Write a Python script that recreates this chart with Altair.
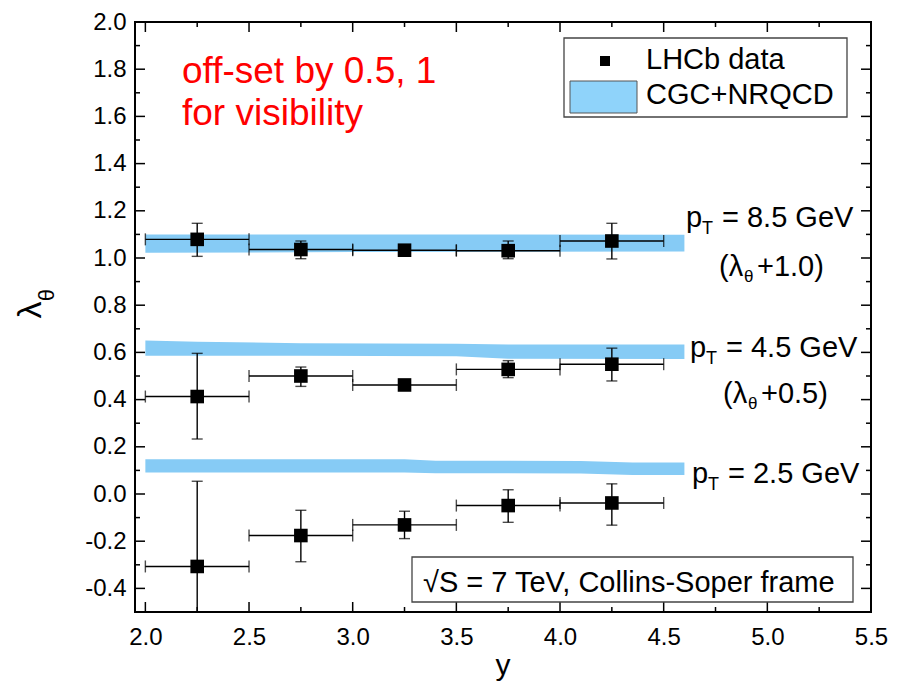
import altair as alt
import pandas as pd

FONT = "Liberation Sans"
BLUE = "#86CBF5"

# ---------------- data ----------------
y_centers = [2.25, 2.75, 3.25, 3.75, 4.25]
bin_half = 0.25

# pT = 2.5 GeV (no offset)
val_25 = [-0.307, -0.176, -0.131, -0.049, -0.038]
lo_25 = [-0.670, -0.287, -0.189, -0.120, -0.132]
hi_25 = [0.054, -0.069, -0.073, 0.018, 0.043]
# pT = 4.5 GeV (+0.5)
val_45 = [0.413, 0.500, 0.462, 0.528, 0.550]
lo_45 = [0.233, 0.456, 0.446, 0.493, 0.479]
hi_45 = [0.596, 0.538, 0.478, 0.565, 0.618]
# pT = 8.5 GeV (+1.0)
val_85 = [1.079, 1.036, 1.033, 1.031, 1.072]
lo_85 = [1.007, 0.997, 1.017, 0.997, 0.996]
hi_85 = [1.147, 1.072, 1.049, 1.072, 1.147]

# CGC+NRQCD bands
band_x_25 = [2.0, 3.25, 3.4, 4.1, 4.35, 4.6]
band_lo_25 = [0.091, 0.091, 0.088, 0.087, 0.081, 0.081]
band_hi_25 = [0.147, 0.147, 0.141, 0.140, 0.133, 0.133]
band_x_45 = [2.0, 2.25, 2.75, 3.5, 3.75, 4.6]
band_lo_45 = [0.586, 0.586, 0.586, 0.584, 0.573, 0.572]
band_hi_45 = [0.650, 0.645, 0.639, 0.637, 0.633, 0.633]
band_x_85 = [2.0, 3.0, 4.6]
band_lo_85 = [1.022, 1.025, 1.028]
band_hi_85 = [1.100, 1.100, 1.098]

x_major = [2.0, 2.5, 3.0, 3.5, 4.0, 4.5, 5.0, 5.5]
x_minor = [2.25, 2.75, 3.25, 3.75, 4.25, 4.75, 5.25]
y_major = [-0.4, -0.2, 0.0, 0.2, 0.4, 0.6, 0.8, 1.0, 1.2, 1.4, 1.6, 1.8, 2.0]
y_minor = [-0.5, -0.3, -0.1, 0.1, 0.3, 0.5, 0.7, 0.9, 1.1, 1.3, 1.5, 1.7, 1.9]

# ---------------- tables ----------------
rows = []
for pt, v, lo, hi in [("2.5", val_25, lo_25, hi_25), ("4.5", val_45, lo_45, hi_45), ("8.5", val_85, lo_85, hi_85)]:
    for c, a, b, d in zip(y_centers, v, lo, hi):
        rows.append(dict(pt=pt, x=c, xlo=c - bin_half, xhi=c + bin_half, val=a, lo=b, hi=d))
pts = pd.DataFrame(rows)

brows = []
for pt, bx, bl, bh in [("2.5", band_x_25, band_lo_25, band_hi_25), ("4.5", band_x_45, band_lo_45, band_hi_45), ("8.5", band_x_85, band_lo_85, band_hi_85)]:
    for a, b, c in zip(bx, bl, bh):
        brows.append(dict(pt=pt, x=a, lo=b, hi=c))
bands = pd.DataFrame(brows)

xscale = alt.Scale(domain=[1.95, 5.5], nice=False, zero=False)
yscale = alt.Scale(domain=[-0.5, 2.0], nice=False, zero=False)
xaxis = alt.Axis(values=x_major, labelExpr="format(datum.value, '.1f')", labelFont=FONT, labelFontSize=24,
                 labelColor="black", tickSize=0, domain=False, grid=False, title=None, labelPadding=13,
                 labelFlush=False, labelOverlap=False)
yaxis = alt.Axis(values=y_major, labelExpr="(datum.value < 0 ? '-' : '') + format(abs(datum.value), '.1f')",
                 labelFont=FONT, labelFontSize=24, labelColor="black", tickSize=0, domain=False, grid=False,
                 title=None, labelPadding=9, labelFlush=False, labelOverlap=False)


def X(f):
    return alt.X(f, type="quantitative", scale=xscale, axis=xaxis)


def Y(f):
    return alt.Y(f, type="quantitative", scale=yscale, axis=yaxis)


layers = []
layers.append(alt.Chart(bands).mark_area(color=BLUE, opacity=1).encode(
    x=X("x"), y=Y("lo"), y2="hi", detail="pt:N"))

# horizontal error bars
layers.append(alt.Chart(pts).mark_rule(color="black", strokeWidth=1.4).encode(x=X("xlo"), x2="xhi", y=Y("val")))
for f in ["xlo", "xhi"]:
    layers.append(alt.Chart(pts).mark_tick(color="black", orient="vertical", size=12, thickness=1.4).encode(
        x=X(f), y=Y("val")))
# vertical error bars
layers.append(alt.Chart(pts).mark_rule(color="black", strokeWidth=1.4, clip=True).encode(x=X("x"), y=Y("lo"), y2="hi"))
for f in ["lo", "hi"]:
    layers.append(alt.Chart(pts).mark_tick(color="black", orient="horizontal", size=11, thickness=1.4, clip=True).encode(
        x=X("x"), y=Y(f)))
# markers
layers.append(alt.Chart(pts).mark_square(color="black", size=185, opacity=1).encode(x=X("x"), y=Y("val")))

# inward axis ticks on four sides
W, H = 736, 590
ydf_maj = pd.DataFrame({"v": y_major})
ydf_min = pd.DataFrame({"v": y_minor})
xdf_maj = pd.DataFrame({"v": x_major})
xdf_min = pd.DataFrame({"v": x_minor})
for df, ln in [(ydf_maj, 10), (ydf_min, 5)]:
    layers.append(alt.Chart(df).mark_rule(color="black", strokeWidth=1.5).encode(
        y=Y("v"), x=alt.value(0), x2=alt.value(ln)))
    layers.append(alt.Chart(df).mark_rule(color="black", strokeWidth=1.5).encode(
        y=Y("v"), x=alt.value(W), x2=alt.value(W - ln)))
for df, ln in [(xdf_maj, 10), (xdf_min, 5)]:
    layers.append(alt.Chart(df).mark_rule(color="black", strokeWidth=1.5).encode(
        x=X("v"), y=alt.value(H), y2=alt.value(H - ln)))
    layers.append(alt.Chart(df).mark_rule(color="black", strokeWidth=1.5).encode(
        x=X("v"), y=alt.value(0), y2=alt.value(ln)))

one = pd.DataFrame({"a": [0]})


def box(x1, x2, y1, y2, fill, stroke, sw):
    return alt.Chart(one).mark_rect(fill=fill, stroke=stroke, strokeWidth=sw).encode(
        x=alt.value(x1), x2=alt.value(x2), y=alt.value(y1), y2=alt.value(y2))


def txt(s, px, py, size, color="black", align="left", baseline="alphabetic", angle=0):
    return alt.Chart(one).mark_text(text=s, font=FONT, fontSize=size, color=color, align=align,
                                    baseline=baseline, angle=angle).encode(x=alt.value(px), y=alt.value(py))


# legend
layers.append(box(429, 712, 16, 95, "white", "#444444", 1.3))
layers.append(alt.Chart(one).mark_square(color="black", size=100, opacity=1).encode(x=alt.value(470), y=alt.value(39)))
layers.append(box(435, 502, 59, 91, "#8FD3FA", "#555555", 1))
layers.append(txt("LHCb data", 511, 47, 29))
layers.append(txt("CGC+NRQCD", 511, 82, 29))

# energy / frame box
layers.append(box(277, 718, 535, 580, "white", "#444444", 1.3))
layers.append(txt("\u221aS = 7 TeV, Collins-Soper frame", 288, 570, 29))

# red note
layers.append(txt("off-set by 0.5, 1", 47, 61, 37, color="#FF0000"))
layers.append(txt("for visibility", 47, 103, 37, color="#FF0000"))

# pT labels
for px, base, rest in [(551, 205, "= 8.5 GeV"), (555, 335, "= 4.5 GeV"), (557, 461, "= 2.5 GeV")]:
    layers.append(txt("p", px, base, 29))
    layers.append(txt("T", px + 16, base + 7, 18))
    layers.append(txt(rest, px + 36, base, 29))
for px, base, rest in [(584, 254, "+1.0)"), (588, 381, "+0.5)")]:
    layers.append(txt("(\u03bb", px, base, 29))
    layers.append(txt("\u03b8", px + 25, base + 6, 17))
    layers.append(txt(rest, px + 38, base, 29))

# axis titles
layers.append(txt("\u03bb", -104, 288, 34, align="center", baseline="middle", angle=270))
layers.append(txt("\u03b8", -88, 273, 22, align="center", baseline="middle", angle=270))
layers.append(txt("y", 368, 653, 30, align="center"))

chart = alt.layer(*layers).properties(
    width=W, height=H,
    autosize=alt.AutoSizeParams(type="none"),
    padding={"left": 127, "top": 14, "right": 18, "bottom": 72},
).configure_view(stroke="black", strokeWidth=2)

chart.save("out.html", embed_options={"renderer": "svg", "actions": False})
